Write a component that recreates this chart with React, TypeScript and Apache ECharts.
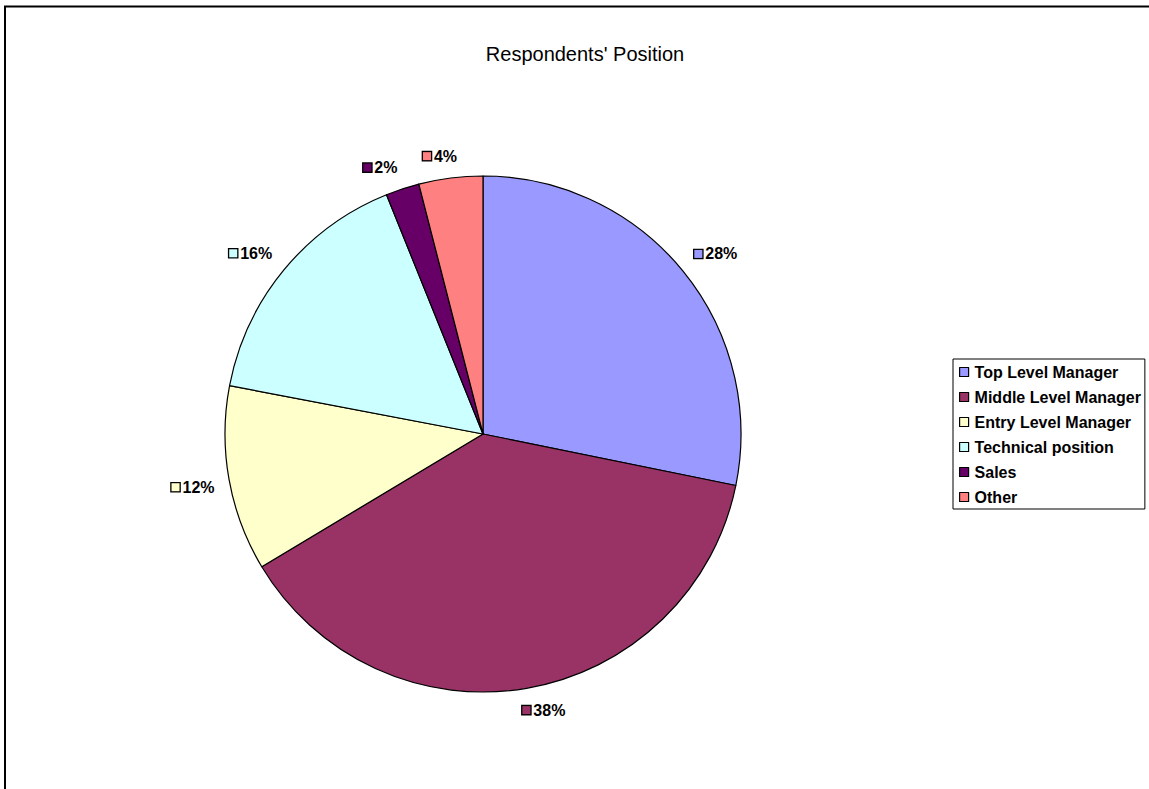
import React, { useEffect, useRef } from "react";
import * as echarts from "echarts";

const categories = [
  "Top Level Manager",
  "Middle Level Manager",
  "Entry Level Manager",
  "Technical position",
  "Sales",
  "Other",
];
// shares (%) read from the slice boundaries; labels show them rounded
const values = [28.2, 38.2, 11.6, 15.9, 2.1, 4.0];
const colors = ["#9999FF", "#993366", "#FFFFCC", "#CCFFFF", "#660066", "#FF8080"];
const titleText = "Respondents' Position";

const FONT = "'Liberation Sans', Arial, sans-serif";
const CENTER: [number, number] = [483, 434];
const RADIUS = 258;
const LABEL_GAP = 14;

export default function App() {
  const ref = useRef<HTMLDivElement>(null);
  useEffect(() => {
    if (!ref.current) return;
    const chart = echarts.init(ref.current, undefined, { renderer: "svg" });
    const total = values.reduce((a, b) => a + b, 0);
    const midAngles: number[] = [];
    let cum = 0;
    values.forEach((v) => {
      midAngles.push(((90 - (360 * (cum + v / 2)) / total) * Math.PI) / 180);
      cum += v;
    });
    const g = (t: number) => Math.sign(t) * Math.min(1, Math.abs(t) * 4);
    const rich: Record<string, any> = {
      t: { fontFamily: FONT, fontSize: 16, fontWeight: "bold", color: "#000", padding: [0, 0, 0, 3] },
    };
    colors.forEach((c, i) => {
      rich["m" + i] = {
        width: 8,
        height: 8,
        backgroundColor: c,
        borderColor: "#000",
        borderWidth: 1.3,
      };
    });
    chart.setOption({
      animation: false,
      backgroundColor: "#fff",
      title: {
        text: titleText,
        left: 580,
        top: 39,
        textAlign: "center",
        textStyle: { fontFamily: FONT, fontSize: 20, fontWeight: "normal", color: "#000" },
      },
      legend: {
        orient: "vertical",
        left: 953,
        top: 359,
        padding: [5, 4, 4, 6],
        borderColor: "#000",
        borderWidth: 1,
        itemWidth: 9,
        itemHeight: 9,
        itemGap: 9,
        icon: "rect",
        data: categories,
        textStyle: {
          fontFamily: FONT,
          fontSize: 16,
          lineHeight: 16,
          fontWeight: "bold",
          color: "#000",
          padding: [0, 0, 0, 1],
        },
        itemStyle: { borderColor: "#000", borderWidth: 1.2 },
      },
      graphic: [
        {
          type: "rect",
          shape: { x: 5, y: 6.5, width: 1200, height: 1000 },
          style: { fill: "none", stroke: "#000", lineWidth: 2 },
          silent: true,
        },
      ],
      series: [
        {
          type: "pie",
          center: CENTER,
          radius: RADIUS,
          startAngle: 90,
          clockwise: true,
          avoidLabelOverlap: false,
          itemStyle: { borderColor: "#000", borderWidth: 1.2 },
          label: {
            show: true,
            position: "outside",
            distanceToLabelLine: 0,
            formatter: (p: any) => `{m${p.dataIndex}|}{t|${Math.round(p.percent)}%}`,
            rich,
          },
          labelLine: { show: false, length: 26, length2: 0 },
          labelLayout: (params: any) => {
            const a = midAngles[params.dataIndex];
            const dx = Math.cos(a);
            const dy = -Math.sin(a);
            const w = params.labelRect.width / 2;
            const h = params.labelRect.height / 2;
            const R = RADIUS + LABEL_GAP;
            return {
              x: CENTER[0] + R * dx + w * g(dx),
              y: CENTER[1] + R * dy + h * g(dy),
              align: "center",
              verticalAlign: "middle",
            };
          },
          emphasis: { disabled: true },
          data: categories.map((name, i) => ({
            name,
            value: values[i],
            itemStyle: { color: colors[i] },
          })),
        },
      ],
    });
    return () => chart.dispose();
  }, []);
  return (
    <div
      ref={ref}
      style={{ position: "absolute", left: 0, top: 0, width: 1149, height: 789 }}
    />
  );
}
